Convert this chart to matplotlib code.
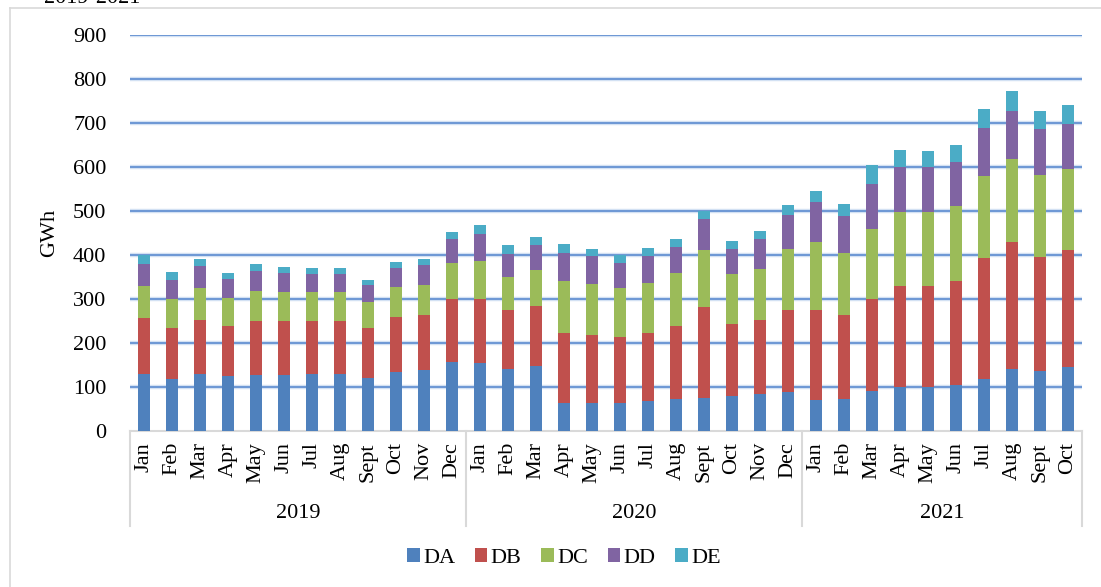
import matplotlib
matplotlib.use("Agg")
import matplotlib.pyplot as plt
from matplotlib.transforms import blended_transform_factory
from matplotlib.patches import Patch
import numpy as np

plt.rcParams['font.family'] = ['Liberation Serif', 'DejaVu Serif']

months = ["Jan", "Feb", "Mar", "Apr", "May", "Jun", "Jul", "Aug", "Sept", "Oct", "Nov", "Dec",
          "Jan", "Feb", "Mar", "Apr", "May", "Jun", "Jul", "Aug", "Sept", "Oct", "Nov", "Dec",
          "Jan", "Feb", "Mar", "Apr", "May", "Jun", "Jul", "Aug", "Sept", "Oct"]
years = ["2019", "2020", "2021"]
year_counts = [12, 12, 10]

# cumulative tops
top_DA = [130, 119, 129, 124, 128, 128, 129, 129, 121, 134, 139, 156,
          155, 141, 148, 64, 64, 64, 69, 72, 76, 80, 85, 89,
          70, 73, 91, 100, 101, 104, 119, 140, 137, 145]
top_DB = [256, 233, 253, 239, 251, 249, 249, 251, 233, 259, 264, 299,
          300, 275, 285, 222, 218, 214, 223, 238, 281, 243, 252, 275,
          275, 264, 299, 330, 329, 340, 393, 429, 395, 412]
top_DC = [329, 299, 324, 303, 319, 317, 315, 315, 294, 327, 331, 382,
          387, 351, 366, 340, 335, 325, 337, 358, 412, 356, 368, 413,
          429, 404, 460, 498, 498, 512, 580, 619, 581, 596]
top_DD = [379, 344, 375, 345, 363, 359, 357, 357, 332, 370, 377, 436,
          448, 403, 422, 405, 397, 381, 397, 418, 481, 413, 436, 490,
          520, 488, 562, 599, 601, 612, 688, 727, 686, 698]
top_DE = [399, 361, 392, 360, 379, 372, 371, 371, 344, 384, 392, 452,
          469, 422, 440, 424, 413, 399, 415, 436, 501, 431, 455, 514,
          546, 515, 605, 639, 636, 650, 732, 772, 728, 741]

DA = np.array(top_DA)
DB = np.array(top_DB) - np.array(top_DA)
DC = np.array(top_DC) - np.array(top_DB)
DD = np.array(top_DD) - np.array(top_DC)
DE = np.array(top_DE) - np.array(top_DD)

series_names = ["DA", "DB", "DC", "DD", "DE"]
series_vals = [DA, DB, DC, DD, DE]
colors = ["#4F81BD", "#C0504D", "#9BBB59", "#8064A2", "#4BACC6"]
yticks = [0, 100, 200, 300, 400, 500, 600, 700, 800, 900]

W, H = 1101, 587
fig = plt.figure(figsize=(W / 100, H / 100), dpi=100)
ax = fig.add_axes([130 / W, (H - 431) / H, 952 / W, 396 / H])

x = np.arange(len(months))
bottom = np.zeros(len(months))
for name, vals, c in zip(series_names, series_vals, colors):
    ax.bar(x, vals, bottom=bottom, width=0.4, color=c, label=name, zorder=3)
    bottom = bottom + vals

ax.set_xlim(-0.5, len(months) - 0.5)
ax.set_ylim(0, 900)

# gridlines (Excel style with glow)
for v in yticks[1:]:
    ax.axhline(v, color="#d3e1f3", lw=3.2, zorder=1)
    ax.axhline(v, color="#5b8bd0", lw=1.2, zorder=2)

for s in ["top", "right", "left"]:
    ax.spines[s].set_visible(False)
ax.spines["bottom"].set_color("#d9d9d9")
ax.spines["bottom"].set_linewidth(1.5)

ax.set_yticks(yticks)
ax.set_yticklabels([str(v) for v in yticks], fontsize=16)
ax.tick_params(axis="y", length=0, pad=17)
ax.set_xticks(x)
ax.set_xticklabels(months, rotation=90, fontsize=16)
ax.tick_params(axis="x", length=0, pad=8)
ax.set_ylabel("GWh", fontsize=16, labelpad=10)

trans = blended_transform_factory(ax.transData, ax.transAxes)
start = -0.5
sep_bottom = (431 - 526) / 396
ax.plot([start, start], [0, sep_bottom], color="#d9d9d9", lw=1.5, transform=trans, clip_on=False)
for yr, n in zip(years, year_counts):
    end = start + n
    ax.plot([end, end], [0, sep_bottom], color="#d9d9d9", lw=1.5, transform=trans, clip_on=False)
    ax.text((start + end) / 2, (431 - 513) / 396, yr, transform=trans, ha="center", va="center",
            fontsize=16)
    start = end

handles = [Patch(facecolor=c, edgecolor="none") for c in colors]
fig.legend(handles, series_names, loc="center", bbox_to_anchor=(564 / W, 1 - 558 / H), ncol=5,
           frameon=False, fontsize=16, handlelength=0.55, handleheight=0.55, handletextpad=0.15,
           columnspacing=0.9)

# outer frame (partially visible)
fig.add_artist(plt.Line2D([10 / W, 10 / W], [0, 1 - 8 / H], color="#d9d9d9", lw=1.2))
fig.add_artist(plt.Line2D([10 / W, 1], [1 - 8 / H, 1 - 8 / H], color="#d9d9d9", lw=1.2))

# cropped title fragment at the very top (cut off in the reference too)
fig.text(44 / W, 1 - 3 / H, "2019-2021", fontsize=16, va="baseline", ha="left")

fig.savefig("out.png", dpi=100)
